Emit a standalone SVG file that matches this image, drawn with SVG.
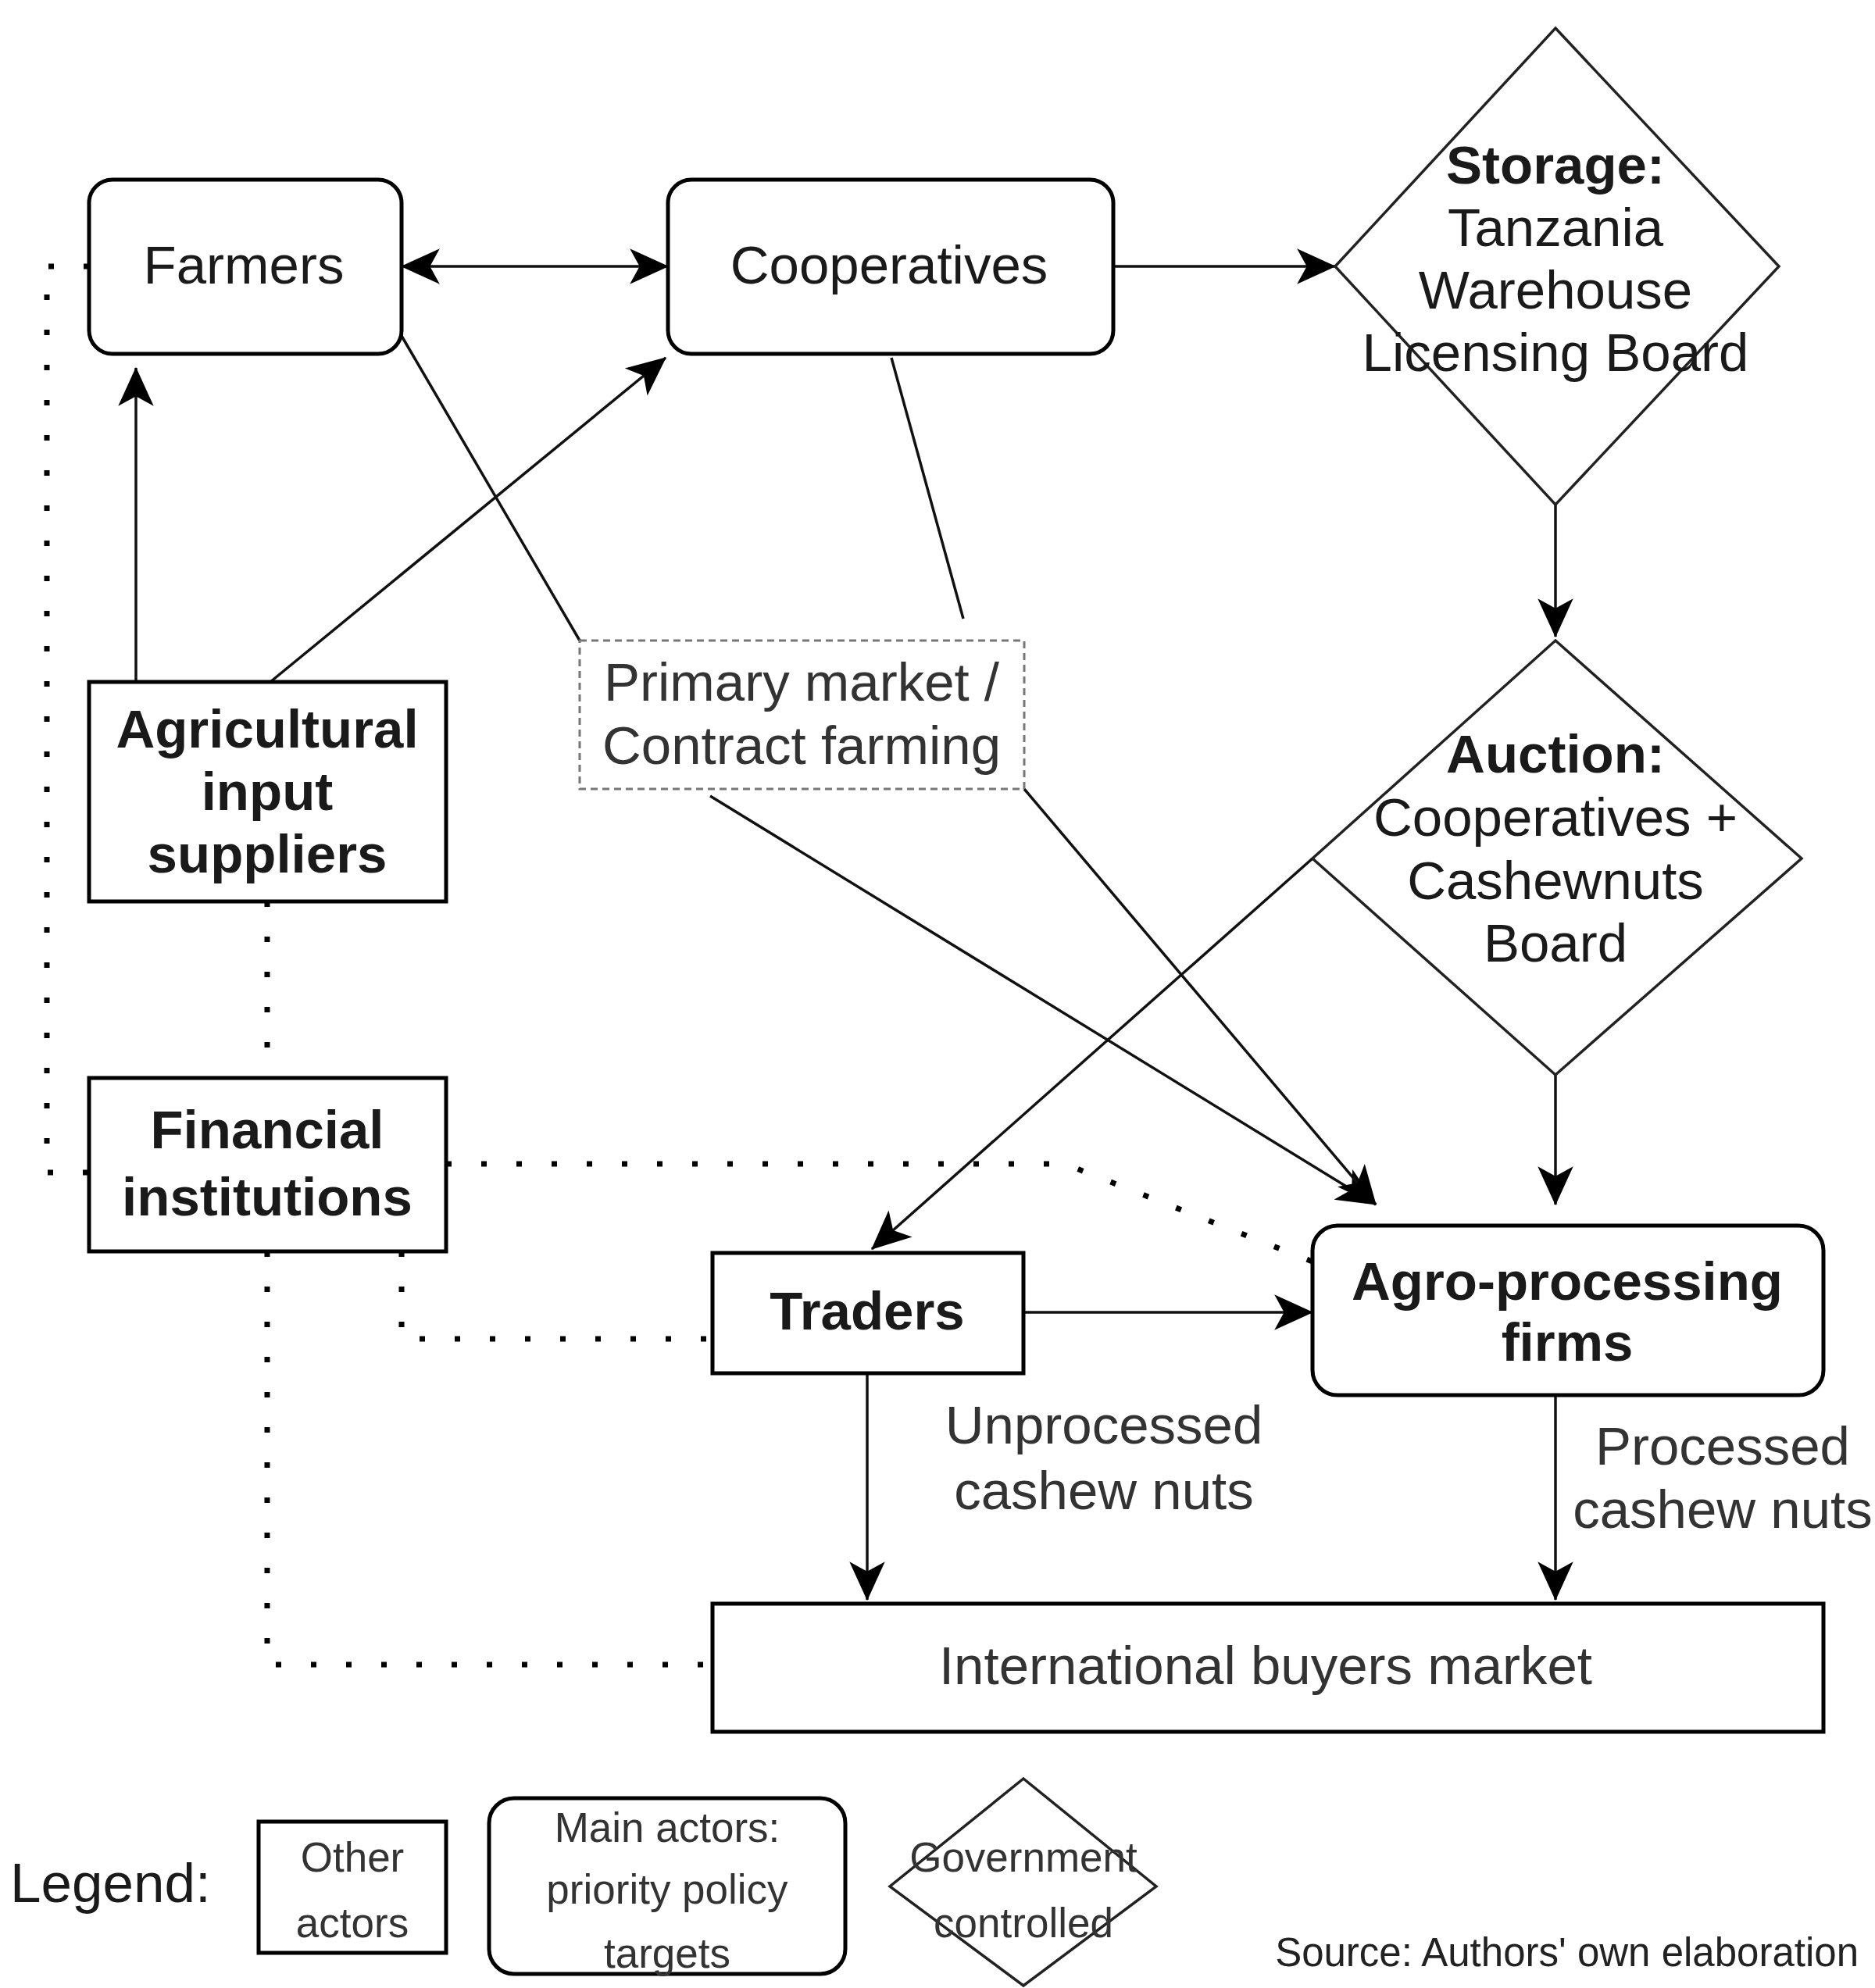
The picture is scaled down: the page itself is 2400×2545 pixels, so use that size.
<svg xmlns="http://www.w3.org/2000/svg" width="2400" height="2545" viewBox="0 0 2400 2545">
<style>
text{font-family:"Liberation Sans",Arial,sans-serif;fill:#1a1a1a;text-anchor:middle}
.t{font-size:69px}
.b{font-weight:bold}
.g{fill:#333}
.box{fill:#fff;stroke:#000;stroke-width:5}
.dia{fill:none;stroke:#222;stroke-width:3.5}
.dash{fill:#fff;stroke:#777;stroke-width:3;stroke-dasharray:9 6}
.c{fill:none;stroke:#111;stroke-width:3.5}
.arr{marker-end:url(#ah)}
.dot{fill:none;stroke:#000;stroke-width:7;stroke-dasharray:7 38}
.lg{font-size:53px;fill:#333}
</style>
<defs>
<marker id="ah" markerUnits="userSpaceOnUse" markerWidth="50" markerHeight="50" viewBox="0 0 44 40" refX="43" refY="20" orient="auto-start-reverse">
<path d="M0,0 L44,20 L0,40 L11,20 Z" fill="#000"/>
</marker>
</defs>
<rect width="2400" height="2545" fill="#fff"/>
<g id="connectors">
<path class="c" d="M514,341 H855" marker-start="url(#ah)" marker-end="url(#ah)"/>
<path class="c arr" d="M1425,341 H1709"/>
<path class="c arr" d="M174,873 V471"/>
<path class="c arr" d="M346,873 L852,458"/>
<path class="c" d="M514,430 L742,820"/>
<path class="c" d="M1141,458 L1233,792"/>
<path class="c arr" d="M1991,646 V815"/>
<path class="c arr" d="M1991,1376 V1542"/>
<path class="c arr" d="M909,1019 L1761,1542"/>
<path class="c arr" d="M1311,1010 L1761,1542"/>
<path class="c arr" d="M1680,1099 L1116,1599"/>
<path class="c arr" d="M1310,1680 H1680"/>
<path class="c arr" d="M1110,1758 V2048"/>
<path class="c arr" d="M1991,1786 V2048"/>
<path class="dot" d="M114,341 H60 V1501 H114"/>
<path class="dot" d="M342,1154 V1380"/>
<path class="dot" d="M571,1490 H1363 L1680,1615"/>
<path class="dot" d="M514,1602 V1714 H912"/>
<path class="dot" d="M342,1602 V2131 H912"/>
</g>
<g id="farmers">
<rect class="box" x="114" y="230" width="400" height="223" rx="30"/>
<text class="t" x="312" y="363">Farmers</text>
</g>
<g id="cooperatives">
<rect class="box" x="855" y="230" width="570" height="223" rx="30"/>
<text class="t" x="1138" y="363">Cooperatives</text>
</g>
<g id="storage">
<polygon class="dia" points="1991,36 2277,341 1991,646 1709,341"/>
<text class="t b" x="1991" y="235">Storage:</text>
<text class="t" x="1991" y="315">Tanzania</text>
<text class="t" x="1991" y="395">Warehouse</text>
<text class="t" x="1991" y="475">Licensing Board</text>
</g>
<g id="agri">
<rect class="box" x="114" y="873" width="457" height="281"/>
<text class="t b" x="342" y="957">Agricultural</text>
<text class="t b" x="342" y="1037">input</text>
<text class="t b" x="342" y="1117">suppliers</text>
</g>
<g id="primary">
<rect class="dash" x="742" y="820" width="569" height="190"/>
<text class="t g" x="1026" y="897">Primary market /</text>
<text class="t g" x="1026" y="978">Contract farming</text>
</g>
<g id="auction">
<polygon class="dia" points="1991,820 2306,1099 1991,1376 1680,1099"/>
<text class="t b" x="1991" y="989">Auction:</text>
<text class="t" x="1991" y="1070">Cooperatives +</text>
<text class="t" x="1991" y="1151">Cashewnuts</text>
<text class="t" x="1991" y="1231">Board</text>
</g>
<g id="financial">
<rect class="box" x="114" y="1380" width="457" height="222"/>
<text class="t b" x="342" y="1470">Financial</text>
<text class="t b" x="342" y="1556">institutions</text>
</g>
<g id="agro">
<rect class="box" x="1680" y="1569" width="654" height="217" rx="32"/>
<text class="t b" x="2006" y="1664">Agro-processing</text>
<text class="t b" x="2006" y="1742">firms</text>
</g>
<g id="traders">
<rect class="box" x="912" y="1604" width="398" height="154"/>
<text class="t b" x="1110" y="1702">Traders</text>
</g>
<g id="label-unprocessed">
<text class="t g" x="1413" y="1848">Unprocessed</text>
<text class="t g" x="1413" y="1932">cashew nuts</text>
</g>
<g id="label-processed">
<text class="t g" x="2205" y="1875">Processed</text>
<text class="t g" x="2205" y="1956">cashew nuts</text>
</g>
<g id="international">
<rect class="box" x="912" y="2053" width="1422" height="164"/>
<text class="t g" x="1620" y="2156">International buyers market</text>
</g>
<g id="legend">
<text x="13" y="2435" style="font-size:71px;text-anchor:start">Legend:</text>
<rect class="box" x="331" y="2332" width="240" height="168"/>
<text class="lg" x="451" y="2396">Other</text>
<text class="lg" x="451" y="2480">actors</text>
<rect class="box" x="626" y="2302" width="456" height="225" rx="32"/>
<text class="lg" x="854" y="2358">Main actors:</text>
<text class="lg" x="854" y="2437">priority policy</text>
<text class="lg" x="854" y="2519">targets</text>
<polygon class="dia" points="1310,2277 1480,2415 1310,2542 1139,2415"/>
<text class="lg" x="1310" y="2396">Government</text>
<text class="lg" x="1310" y="2480">controlled</text>
</g>
<g id="source">
<text x="2379" y="2517" style="font-size:51px;text-anchor:end;fill:#222">Source: Authors' own elaboration</text>
</g>
</svg>
